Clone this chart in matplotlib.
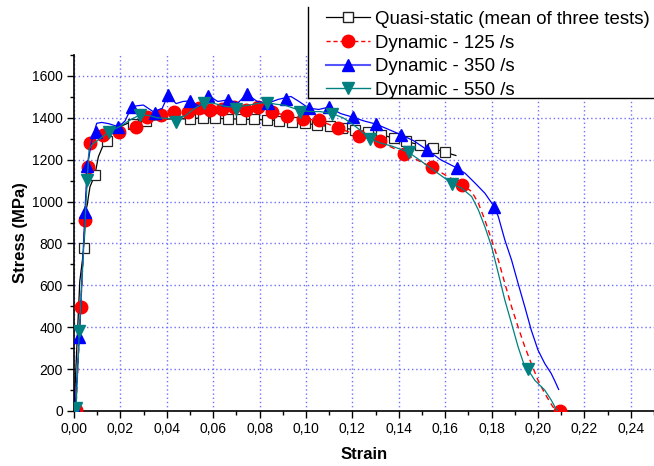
import matplotlib
matplotlib.use("Agg")
import matplotlib.pyplot as plt
from matplotlib.ticker import MultipleLocator, FuncFormatter
from matplotlib.lines import Line2D
from matplotlib.patches import Rectangle

plt.rcParams['font.family'] = ['Liberation Sans', 'DejaVu Sans']

# ---------------- data ----------------
labels = ["Quasi-static (mean of three tests)", "Dynamic - 125 /s",
          "Dynamic - 350 /s", "Dynamic - 550 /s"]

qs_line_x = [0, 0.001, 0.0025, 0.0043, 0.005, 0.0058, 0.0062, 0.0069, 0.009, 0.0105,
             0.0126, 0.0144, 0.0165, 0.0198, 0.0249, 0.031, 0.035, 0.04, 0.045, 0.05,
             0.0555, 0.0608, 0.0665, 0.072, 0.0776, 0.0833, 0.0885, 0.0941, 0.0996,
             0.1049, 0.1102, 0.1157, 0.1213, 0.1266, 0.1324, 0.1379, 0.1433, 0.149,
             0.1546, 0.1601, 0.1646]
qs_line_y = [0, 250, 620, 780, 950, 990, 1023, 1071, 1127, 1214,
             1270, 1291, 1327, 1358, 1382, 1386, 1390, 1394, 1396, 1394,
             1401, 1398, 1395, 1394, 1392, 1390, 1387, 1381, 1374,
             1365, 1359, 1351, 1343, 1332, 1319, 1303, 1287, 1271,
             1255, 1235, 1220]
qs_mark_x = [0.0043, 0.009, 0.0144, 0.0256, 0.031, 0.05, 0.0555, 0.0608, 0.0665,
             0.072, 0.0776, 0.0833, 0.0885, 0.0941, 0.0996, 0.1049, 0.1102, 0.1157,
             0.1213, 0.1266, 0.1324, 0.1379, 0.1433, 0.149, 0.1546, 0.1601]
qs_mark_y = [780, 1127, 1291, 1371, 1386, 1394, 1401, 1398, 1395,
             1394, 1392, 1390, 1387, 1381, 1374, 1365, 1359, 1351,
             1343, 1332, 1319, 1303, 1287, 1271, 1255, 1235]

r125_line_x = [0, 0.0008, 0.0029, 0.0047, 0.0059, 0.0068, 0.009, 0.0124, 0.0195, 0.0266,
               0.0315, 0.0376, 0.0433, 0.0491, 0.0537, 0.0588, 0.0636, 0.0688, 0.0742,
               0.0792, 0.0854, 0.0917, 0.0985, 0.1055, 0.1137, 0.1229, 0.1317, 0.1422,
               0.1544, 0.1674, 0.1714, 0.1743, 0.1771, 0.18, 0.1829, 0.1857, 0.1886,
               0.1914, 0.1943, 0.1971, 0.2, 0.2029, 0.2064, 0.2089]
r125_line_y = [0, 5, 495, 912, 1167, 1282, 1300, 1318, 1334, 1358,
               1400, 1410, 1425, 1430, 1442, 1440, 1444, 1449, 1442,
               1449, 1430, 1409, 1395, 1388, 1352, 1314, 1288, 1230,
               1163, 1080, 1048, 992, 912, 817, 721, 610, 498,
               402, 307, 227, 147, 84, 20, 0]
r125_mark_x = [0.0008, 0.0029, 0.0047, 0.0059, 0.0068, 0.0124, 0.0195, 0.0266, 0.0315,
               0.0376, 0.0433, 0.0491, 0.0537, 0.0588, 0.0636, 0.0688, 0.0742, 0.0792,
               0.0854, 0.0917, 0.0985, 0.1055, 0.1137, 0.1229, 0.1317, 0.1422, 0.1544,
               0.1674, 0.2094]
r125_mark_y = [5, 495, 912, 1167, 1282, 1318, 1334, 1358, 1406,
               1414, 1429, 1427, 1446, 1438, 1444, 1451, 1438, 1451,
               1430, 1409, 1395, 1390, 1352, 1314, 1290, 1228, 1163,
               1080, 2]

b350_line_x = [0, 0.0005, 0.0023, 0.0047, 0.0057, 0.0075, 0.0086, 0.0098, 0.012, 0.015,
               0.0184, 0.019, 0.022, 0.0249, 0.0275, 0.0299, 0.0342, 0.038, 0.0406, 0.044,
               0.047, 0.0502, 0.054, 0.0579, 0.062, 0.0665, 0.0705, 0.0745, 0.079, 0.0836,
               0.088, 0.0935, 0.097, 0.1012, 0.1055, 0.1098, 0.115, 0.1202, 0.125, 0.1302,
               0.1355, 0.141, 0.1465, 0.1522, 0.158, 0.1653, 0.1686, 0.1729, 0.1771,
               0.1811, 0.1829, 0.1857, 0.1886, 0.1914, 0.1943, 0.1971, 0.2, 0.2029,
               0.2057, 0.2071, 0.2089]
b350_line_y = [0, 10, 355, 949, 1168, 1280, 1330, 1374, 1378, 1372,
               1360, 1355, 1385, 1453, 1458, 1461, 1429, 1445, 1509, 1468,
               1478, 1481, 1455, 1506, 1478, 1486, 1470, 1513, 1478, 1470,
               1488, 1502, 1478, 1446, 1440, 1451, 1420, 1403, 1385, 1370,
               1345, 1319, 1290, 1247, 1200, 1159, 1135, 1088, 1040,
               976, 928, 817, 721, 610, 498, 386, 291, 227,
               179, 147, 103]
b350_mark_x = [0.0005, 0.0023, 0.0047, 0.0057, 0.0095, 0.019, 0.0252, 0.0349, 0.0406,
               0.0502, 0.0579, 0.0665, 0.0745, 0.0836, 0.0915, 0.1012, 0.1098, 0.1202,
               0.1302, 0.141, 0.1522, 0.1653, 0.1811]
b350_mark_y = [10, 355, 949, 1168, 1334, 1355, 1450, 1422, 1509,
               1481, 1506, 1486, 1513, 1470, 1489, 1446, 1451, 1403,
               1370, 1319, 1247, 1159, 976]

t550_line_x = [0, 0.0009, 0.0023, 0.0057, 0.0065, 0.008, 0.01, 0.0152, 0.02, 0.025,
               0.0284, 0.032, 0.036, 0.044, 0.048, 0.052, 0.0559, 0.06, 0.065, 0.0699,
               0.075, 0.08, 0.0833, 0.087, 0.091, 0.0974, 0.102, 0.106, 0.1114, 0.116,
               0.12, 0.1235, 0.1275, 0.132, 0.137, 0.1442, 0.15, 0.155, 0.16, 0.163,
               0.1671, 0.1714, 0.1743, 0.1771, 0.18, 0.1829, 0.1857, 0.1886, 0.1914,
               0.1943, 0.1956, 0.1986, 0.2029, 0.2057, 0.2083]
t550_line_y = [0, 15, 383, 1103, 1250, 1275, 1290, 1334, 1360, 1395,
               1413, 1412, 1400, 1395, 1410, 1445, 1470, 1470, 1455, 1450,
               1460, 1470, 1473, 1465, 1460, 1435, 1430, 1430, 1420, 1400,
               1370, 1340, 1300, 1280, 1265, 1236, 1190, 1150, 1110, 1084,
               1064, 1024, 960, 880, 785, 657, 530, 418, 307,
               211, 199, 147, 100, 52, 0]
t550_mark_x = [0.0009, 0.0023, 0.0057, 0.0152, 0.0284, 0.044, 0.0559, 0.0699, 0.0833,
               0.0974, 0.1114, 0.1275, 0.1442, 0.163, 0.1956]
t550_mark_y = [15, 383, 1103, 1334, 1413, 1382, 1470, 1443, 1473,
               1427, 1417, 1298, 1236, 1084, 199]

x_ticks = [0.00, 0.02, 0.04, 0.06, 0.08, 0.10, 0.12, 0.14, 0.16, 0.18, 0.20, 0.22, 0.24]
y_ticks = [0, 200, 400, 600, 800, 1000, 1200, 1400, 1600]

# ---------------- figure ----------------
W, H = 654, 466
fig = plt.figure(figsize=(W / 100, H / 100), dpi=100)
ax = fig.add_axes([74 / W, 55 / H, 580 / W, 356 / H])

blue = '#0000FF'
red = '#FF0000'
teal = '#008080'

ax.plot(qs_line_x, qs_line_y, color='black', lw=0.9, zorder=3)
ax.plot(qs_mark_x, qs_mark_y, ls='none', marker='s', ms=7, mfc='white',
        mec='#222222', mew=0.9, zorder=4)
ax.plot(r125_line_x, r125_line_y, color=red, lw=1.0, ls=(0, (4, 3)), zorder=5)
ax.plot(r125_mark_x, r125_mark_y, ls='none', marker='o', ms=9, mfc=red, mec=red, zorder=6)
ax.plot(b350_line_x, b350_line_y, color=blue, lw=0.9, zorder=7)
ax.plot(b350_mark_x, b350_mark_y, ls='none', marker='^', ms=9, mfc=blue, mec=blue, zorder=8)
ax.plot(t550_line_x, t550_line_y, color=teal, lw=0.9, zorder=9)
ax.plot(t550_mark_x, t550_mark_y, ls='none', marker='v', ms=9, mfc=teal, mec=teal, zorder=10)

ax.set_xlim(0, 0.25)
ax.set_ylim(0, 1700)
ax.set_xticks(x_ticks)
ax.set_yticks(y_ticks)
ax.xaxis.set_minor_locator(MultipleLocator(0.01))
ax.yaxis.set_minor_locator(MultipleLocator(100))
ax.xaxis.set_major_formatter(FuncFormatter(lambda v, p: f"{v:.2f}".replace('.', ',')))
ax.yaxis.set_major_formatter(FuncFormatter(lambda v, p: f"{v:.0f}"))
ax.tick_params(which='major', direction='out', length=5, width=1, labelsize=10, pad=3)
ax.tick_params(which='minor', direction='out', length=3, width=1)

for s in ['top', 'right']:
    ax.spines[s].set_visible(False)
for s in ['left', 'bottom']:
    ax.spines[s].set_linewidth(1.2)

ax.grid(True, which='major', color='#7070FF', ls=(0, (1, 2)), lw=1.0)
ax.set_axisbelow(True)

ax.set_xlabel("Strain", fontsize=12, fontweight='bold', labelpad=8)
ax.set_ylabel("Stress (MPa)", fontsize=12, fontweight='bold', labelpad=3)

# legend box (open at the top, running off the right edge)
bx0, by1 = 308, 98
fig.patches.append(Rectangle((bx0 / W, 1 - by1 / H), 1 - bx0 / W, by1 / H,
                             transform=fig.transFigure, facecolor='white',
                             edgecolor='none', zorder=15))
fig.lines.append(Line2D([bx0 / W, bx0 / W], [1 - by1 / H, 1 - 7 / H],
                        transform=fig.transFigure, color='black', lw=1.0, zorder=16))
fig.lines.append(Line2D([bx0 / W, 1.0], [1 - by1 / H, 1 - by1 / H],
                        transform=fig.transFigure, color='black', lw=1.0, zorder=16))

handles = [
    Line2D([], [], color='black', lw=0.9, marker='s', ms=7, mfc='white', mec='#222222'),
    Line2D([], [], color=red, lw=1.0, ls=(0, (3, 2)), marker='o', ms=9, mfc=red, mec=red),
    Line2D([], [], color='#5555FF', lw=1.5, marker='^', ms=9, mfc=blue, mec=blue),
    Line2D([], [], color=teal, lw=1.0, marker='v', ms=9, mfc=teal, mec=teal),
]
leg = fig.legend(handles, labels, loc='lower left',
                 bbox_to_anchor=(326 / W, 1 - 99 / H), bbox_transform=fig.transFigure,
                 fontsize=13.4, frameon=False, handlelength=2.35, handletextpad=0.27,
                 labelspacing=0.36, borderpad=0, borderaxespad=0)
leg.set_zorder(20)

fig.savefig("out.png", dpi=100)
